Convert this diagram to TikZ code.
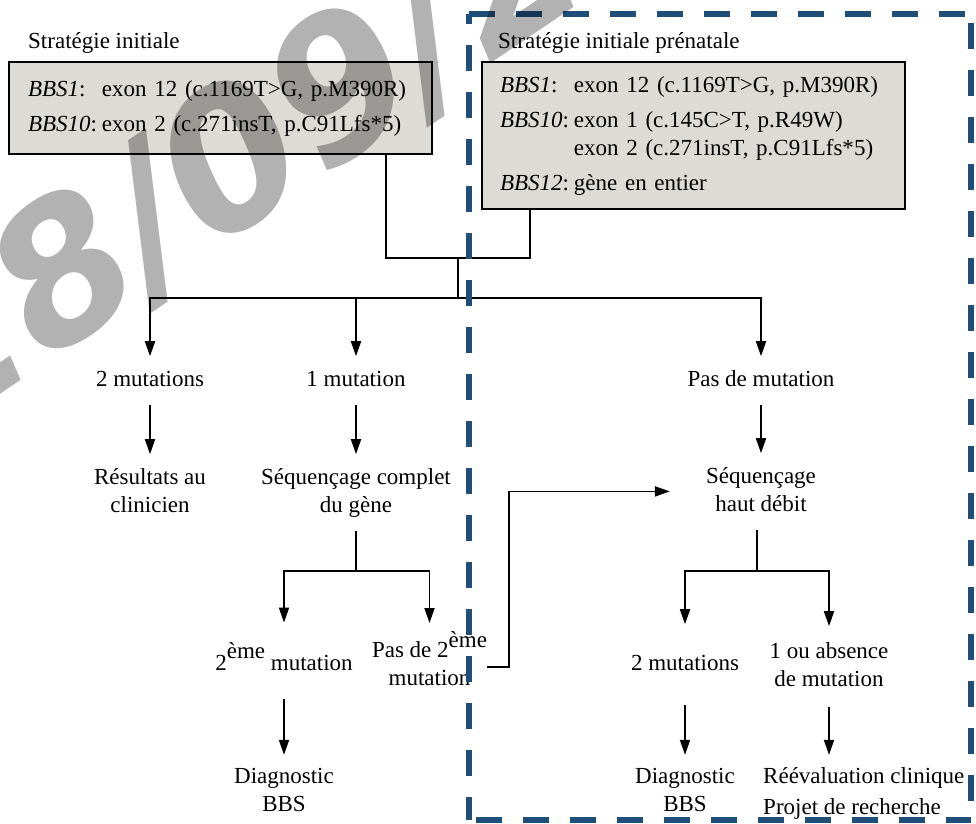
\documentclass[tikz,border=0pt]{standalone}
\usepackage{fontspec}
\setmainfont{Liberation Serif}
\newfontfamily\wmfont{DejaVu Sans}
\usetikzlibrary{arrows.meta}
\definecolor{boxfill}{RGB}{221,219,213}
\definecolor{dashblue}{RGB}{31,78,121}
\newcommand\fsz{\fontsize{23}{28}\selectfont}
\newcommand\rsup[2][11.5pt]{\raisebox{#1}{#2}}
\begin{document}
\begin{tikzpicture}[x=1pt,y=-1pt,
  every node/.style={font=\fsz},
  lbl/.style={align=center, inner xsep=0pt, inner ysep=10pt},
  genebox/.style={draw=black, line width=1.5pt, fill=boxfill, minimum height=#1, anchor=north west, align=left, outer sep=0pt},
  arr/.style={line width=1.8pt, -{Triangle[length=15pt,width=10pt]}},
  conn/.style={line width=1.8pt},
  dashbox/.style={draw=dashblue, line width=6pt, dash pattern=on 26pt off 21pt, dash phase=#1},
]
\useasboundingbox (0,0) rectangle (976,823);

% titles
\node[anchor=base west, inner sep=0pt] (ltitle) at (28,48) {Stratégie initiale};
\node[anchor=base west, inner sep=0pt] (rtitle) at (498,48) {Stratégie initiale prénatale};

% gene boxes
\node[genebox=92, inner xsep=19pt, text width=385pt] (lbox) at (9,62) {%
\begin{tabular}{@{}l@{\hspace{5pt}}l@{}}
\textit{BBS1}: & exon 12 (c.1169T>G, p.M390R)\\[7pt]
\textit{BBS10}: & exon 2 (c.271insT, p.C91Lfs*5)
\end{tabular}};
\node[genebox=147, inner xsep=18pt, text width=387pt] (rbox) at (482,62) {%
\begin{tabular}{@{}l@{\hspace{5pt}}l@{}}
\textit{BBS1}: & exon 12 (c.1169T>G, p.M390R)\\[7pt]
\textit{BBS10}: & exon 1 (c.145C>T, p.R49W)\\
 & exon 2 (c.271insT, p.C91Lfs*5)\\[7pt]
\textit{BBS12}: & gène en entier
\end{tabular}};

% labels
\node[lbl] (n2mut) at (150,380.4) {\strut 2 mutations};
\node[lbl] (n1mut) at (356,380.4) {\strut 1 mutation};
\node[lbl] (npasmut) at (761,380.4) {\strut Pas de mutation};
\node[lbl] (nres) at (150,492.4) {\strut Résultats au\\\strut clinicien};
\node[lbl] (nseqc) at (356,492.4) {\strut Séquençage complet\\\strut du gène};
\node[lbl, inner xsep=36pt] (nseqh) at (761,491.4) {\strut Séquençage\\\strut haut débit};
\node[lbl, inner ysep=20pt] (n2eme) at (284,660.7) {\strut 2\rsup{ème} mutation};
\node[lbl, inner ysep=8pt] (npas2) at (429.5,662.4) {\strut Pas de 2\rsup[10pt]{ème}\\\strut mutation};
\node[lbl, inner ysep=26pt] (n2mutR) at (685,664.4) {\strut 2 mutations};
\node[lbl, inner ysep=12pt] (n1ou) at (829,666.4) {\strut 1 ou absence\\\strut de mutation};
\node[lbl, inner ysep=8.4pt] (ndiag1) at (284,791.4) {\strut Diagnostic\\\strut BBS};
\node[lbl, inner ysep=8.4pt] (ndiag2) at (685,791.4) {\strut Diagnostic\\\strut BBS};
\node[align=left, inner xsep=0pt, inner ysep=8.4pt, anchor=west] (nreev) at (763,793) {\strut Réévaluation clinique\\[3pt]\strut Projet de recherche};

% connectors
\coordinate (jl) at (386,258);
\coordinate (jr) at (530,258);
\coordinate (jm) at (458,258);
\coordinate (jb) at (458,298);
\draw[conn] (lbox.south -| jl) -- (jl) -- (jr) -- (rbox.south -| jr);
\draw[conn] (jm) -- (jb);
\draw[arr] (jb) -| (n2mut.north);
\draw[arr] (jb) -| (n1mut.north);
\draw[arr] (jb) -| (npasmut.north);
\draw[arr] (n2mut.south) -- (nres.north);
\draw[arr] (n1mut.south) -- (nseqc.north);
\draw[arr] (npasmut.south) -- (nseqh.north);

\coordinate (sp1) at (356,571);
\draw[conn] (nseqc.south) -- (sp1);
\draw[arr] (sp1) -| (n2eme.north);
\draw[arr] (sp1) -| (npas2.north);

\coordinate (sp2) at (757,571);
\draw[conn] (nseqh.south -| sp2) -- (sp2);
\draw[arr] (sp2) -| (n2mutR.north);
\draw[arr] (sp2) -| (n1ou.north);

\coordinate (hk) at (509,667);
\draw[arr] (npas2.east |- hk) -- (hk) |- (nseqh.west);

\draw[arr] (n2eme.south) -- (ndiag1.north);
\draw[arr] (n2mutR.south) -- (ndiag2.north);
\draw[arr] (n1ou.south) -- (n1ou.south |- nreev.north);

% dashed frame
\coordinate (ftl) at (468.5,13.5);
\coordinate (ftr) at (971,13.5);
\coordinate (fbl) at (468.5,820);
\coordinate (fbr) at (971,820);
\draw[dashbox=0pt] (ftl) -- (ftr);
\draw[dashbox=37.5pt] (ftr) -- (fbr);
\draw[dashbox=15.5pt] (ftl) -- (fbl);
\draw[dashbox=39.5pt] (fbl) -- (fbr);

% watermark
\node[rotate=34, font=\wmfont\bfseries\itshape\fontsize{190}{190}\selectfont, text=black, opacity=0.3, inner sep=0pt] (wm) at (288,126) {28/09/20};
\end{tikzpicture}
\end{document}
